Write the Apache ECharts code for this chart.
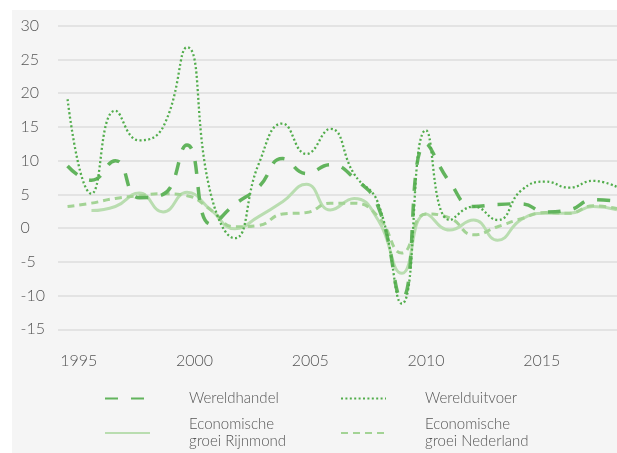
<!DOCTYPE html>
<html>
<head>
<meta charset="utf-8">
<script src="https://cdn.jsdelivr.net/npm/echarts@6/dist/echarts.min.js"></script>
<style>
html, body { margin: 0; padding: 0; background: #fff; }
#main { width: 617px; height: 453px; }
</style>
</head>
<body>
<div id="main"></div>
<script>
var years = [1995, 1996, 1997, 1998, 1999, 2000, 2001, 2002, 2003, 2004, 2005, 2006,
	2007, 2008, 2009, 2010, 2011, 2012, 2013, 2014, 2015, 2016, 2017, 2018];
var wereldhandel = [9.2, 7.1, 10.0, 4.5, 5.0, 12.3, 0.6, 3.5, 6.1, 10.3, 8.1, 9.4,
	7.4, 3.2, -10.4, 12.5, 6.8, 3.2, 3.5, 3.6, 2.4, 2.7, 4.2, 4.0];
var werelduitvoer = [19.1, 5.1, 17.4, 13.0, 15.0, 26.8, 5.0, -1.5, 9.5, 15.5, 11.0, 14.7,
	8.0, 3.7, -11.2, 14.5, 1.2, 3.2, 1.2, 5.6, 6.9, 6.0, 7.0, 6.1];
var groeiRijnmond = [null, 2.6, 3.2, 5.2, 2.4, 5.3, 2.7, -0.1, 1.7, 3.9, 6.5, 2.7,
	4.4, 1.2, -6.7, 2.1, -0.3, 1.2, -1.8, 1.3, 2.2, 2.2, 3.2, 2.7];
var groeiNederland = [3.2, 3.7, 4.4, 4.8, 5.1, 4.8, 2.7, 0.2, 0.4, 2.1, 2.3, 3.7,
	3.7, 1.7, -3.7, 2.1, 1.5, -1.0, 0.2, 1.4, 2.3, 2.2, 3.3, 2.9];
var yearLabels = [1995, 2000, 2005, 2010, 2015];

var fontName = 'Lato';
var textColor = '#555555';

function pairs(values) {
	var out = [];
	for (var i = 0; i < years.length; i++) {
		out.push([years[i], values[i]]);
	}
	return out;
}

function legendAt(name, left, top) {
	return {
		data: [name],
		left: left,
		top: top,
		padding: 0,
		itemWidth: 45,
		itemHeight: 14,
		selectedMode: false,
		itemStyle: { opacity: 0 },
		formatter: function (n) {
			return n.replace('Economische ', 'Economische\n');
		},
		textStyle: {
			fontFamily: fontName,
			fontWeight: 300,
			fontSize: 15,
			lineHeight: 17,
			color: textColor,
			padding: [0, 0, 0, 34]
		}
	};
}

var chart = echarts.init(document.getElementById('main'));

var option = {
	backgroundColor: '#ffffff',
	animation: false,
	graphic: [{
		type: 'rect',
		z: -100,
		silent: true,
		shape: { x: 12, y: 10, width: 605, height: 443 },
		style: { fill: '#f5f5f5' }
	}],
	grid: [
		{ left: 58, right: 0, top: 25.7, bottom: 123.7 },
		{ left: 78.7, right: 0, top: 25.7, bottom: 123.7 }
	],
	legend: [
		legendAt('Wereldhandel', 104, 390),
		legendAt('Werelduitvoer', 340, 390),
		legendAt('Economische groei Rijnmond', 104, 416),
		legendAt('Economische groei Nederland', 340, 416)
	],
	xAxis: [{
		// data axis
		type: 'value',
		gridIndex: 0,
		min: 1994.6,
		max: 2018,
		show: false,
		splitLine: { show: false }
	}, {
		// labels axis (labels in the source sit slightly off the data points)
		type: 'value',
		gridIndex: 1,
		min: 1995,
		max: 2018.25,
		interval: 5,
		axisLine: { show: false },
		axisTick: { show: false },
		splitLine: { show: false },
		axisLabel: {
			margin: 24,
			fontFamily: fontName,
			fontWeight: 300,
			fontSize: 16,
			color: textColor,
			showMaxLabel: false,
			formatter: function (v) {
				return yearLabels.indexOf(v) >= 0 ? String(v) : '';
			}
		}
	}],
	yAxis: [{
		type: 'value',
		gridIndex: 0,
		min: -15,
		max: 30,
		interval: 5,
		axisLine: { show: false },
		axisTick: { show: false },
		splitLine: { lineStyle: { color: '#dcdcdc', width: 1.5 } },
		axisLabel: {
			align: 'left',
			margin: 37.5,
			fontFamily: fontName,
			fontWeight: 300,
			fontSize: 16,
			color: textColor
		}
	}, {
		type: 'value',
		gridIndex: 1,
		min: -15,
		max: 30,
		show: false,
		splitLine: { show: false }
	}],
	series: [{
		name: 'Economische groei Rijnmond',
		type: 'line',
		smooth: true,
		showSymbol: false,
		symbol: 'none',
		color: '#b9ddb0',
		lineStyle: { color: '#b9ddb0', width: 3 },
		data: pairs(groeiRijnmond)
	}, {
		name: 'Economische groei Nederland',
		type: 'line',
		smooth: true,
		showSymbol: false,
		symbol: 'none',
		color: '#a3d395',
		lineStyle: { color: '#a3d395', width: 3, type: [7, 5] },
		data: pairs(groeiNederland)
	}, {
		name: 'Wereldhandel',
		type: 'line',
		smooth: true,
		showSymbol: false,
		symbol: 'none',
		color: '#62b45d',
		lineStyle: { color: '#62b45d', width: 3.5, type: [13, 13] },
		data: pairs(wereldhandel)
	}, {
		name: 'Werelduitvoer',
		type: 'line',
		smooth: true,
		showSymbol: false,
		symbol: 'none',
		color: '#52ad4c',
		lineStyle: { color: '#52ad4c', width: 2.3, type: [2, 2.4] },
		data: pairs(werelduitvoer)
	}]
};

chart.setOption(option);
</script>
</body>
</html>
